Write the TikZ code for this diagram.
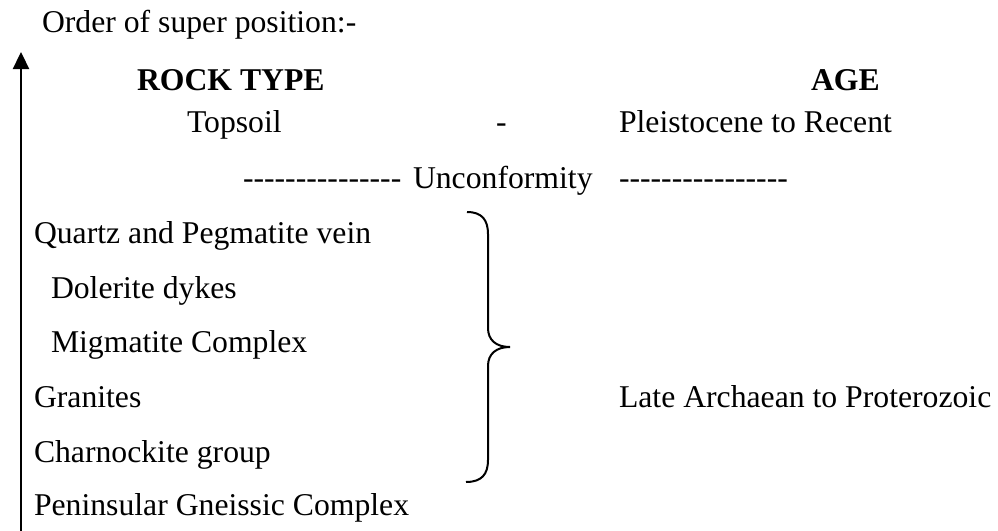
\documentclass[tikz,border=0pt]{standalone}
\usepackage{fontspec}
\setmainfont{Liberation Serif}
\usetikzlibrary{arrows.meta}
\newcommand\dashrun[1]{\foreach \k in {1,...,#1}{\mbox{-}}}
\begin{document}
\begin{tikzpicture}[x=1pt,y=-1pt,
  txt/.style={anchor=base west,inner sep=0pt,outer sep=0pt,font=\fontsize{31.7}{38}\selectfont},
  bold/.style={txt,font=\fontsize{31.7}{38}\selectfont\bfseries},
  lineblk/.style={line width=2.3pt,black},
  bracepath/.style={line width=2pt,black}]
\useasboundingbox (0,0) rectangle (998,530);
% title
\node[txt] (title) at (42,32) {Order of super position:-};
% headings
\node[bold] (rock) at (137,90) {ROCK TYPE};
\node[bold] (age) at (811,90) {AGE};
% topsoil row
\node[txt] (topsoil) at (187,132) {Topsoil};
\node[txt] (dash) at (496,132) {-};
\node[txt] (pleist) at (619,132) {Pleistocene to Recent};
% unconformity row
\node[txt] (dl) at (243,188) {\dashrun{15}};
\node[txt] (unc) at (413,188) {Unconformity};
\node[txt] (dr) at (619,188) {\dashrun{16}};
% rock column
\node[txt] (qtz) at (34,243) {Quartz and Pegmatite vein};
\node[txt] (dol) at (51,298) {Dolerite dykes};
\node[txt] (mig) at (51,352) {Migmatite Complex};
\node[txt] (gra) at (34,407) {Granites};
\node[txt] (cha) at (34,462) {Charnockite group};
\node[txt] (pen) at (34,515) {Peninsular Gneissic Complex};
\node[txt] (late) at (619,407) {Late Archaean to Proterozoic};
% arrow
\coordinate (afoot) at (21,531);
\coordinate (atip) at (21,52);
\draw[lineblk,-{Triangle[width=16pt,length=17pt]}] (afoot) -- (atip);
% brace
\draw[bracepath] (467,212) .. controls (482,212) and (488,220) .. (488,234)
  -- (488,328) .. controls (488,340) and (496,347) .. (510,347)
  .. controls (496,347) and (488,354) .. (488,366)
  -- (488,460) .. controls (488,474) and (482,482) .. (466,482);
\end{tikzpicture}
\end{document}
